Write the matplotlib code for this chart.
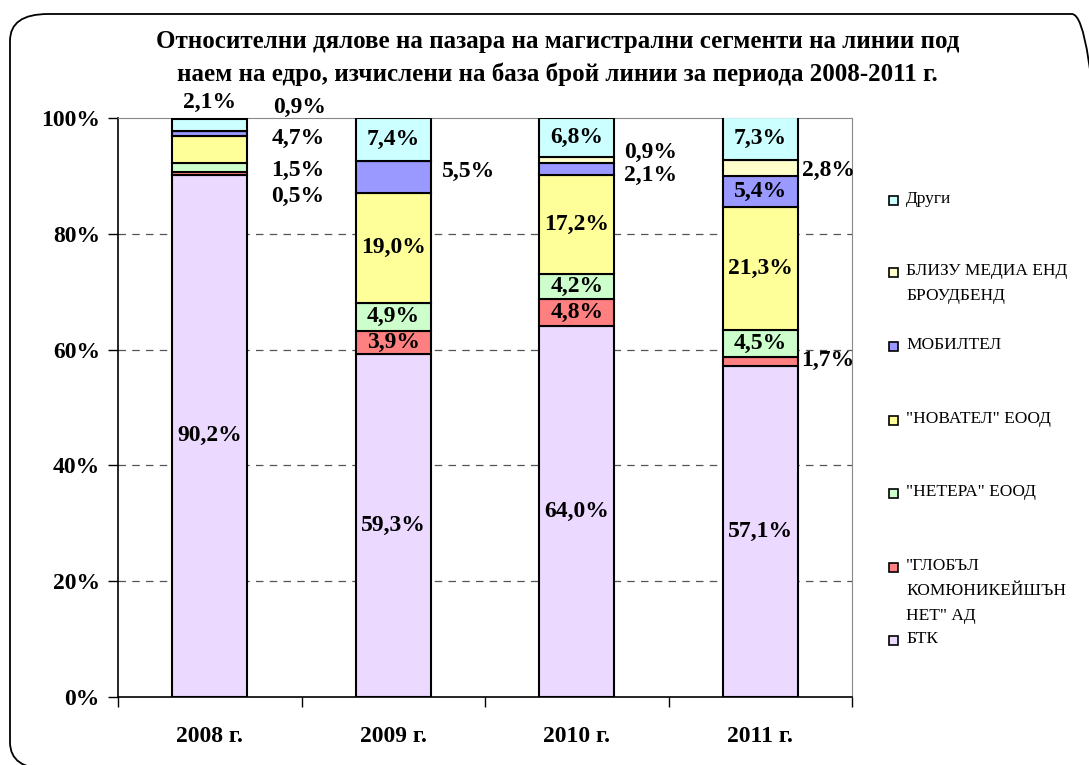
import matplotlib
matplotlib.use("Agg")
import matplotlib.pyplot as plt
from matplotlib.patches import FancyBboxPatch, Rectangle
import numpy as np

plt.rcParams['font.family'] = ['Liberation Serif', 'DejaVu Serif']

years = ['2008 г.', '2009 г.', '2010 г.', '2011 г.']
series = ['БТК', '"ГЛОБЪЛ\nКОМЮНИКЕЙШЪН\nНЕТ" АД', '"НЕТЕРА" ЕООД', '"НОВАТЕЛ" ЕООД',
          'МОБИЛТЕЛ', 'БЛИЗУ МЕДИА ЕНД\nБРОУДБЕНД', 'Други']
btk = [90.2, 59.3, 64.0, 57.1]
globul = [0.5, 3.9, 4.8, 1.7]
netera = [1.5, 4.9, 4.2, 4.5]
novatel = [4.7, 19.0, 17.2, 21.3]
mobiltel = [0.9, 5.5, 2.1, 5.4]
blizu = [0.0, 0.0, 0.9, 2.8]
drugi = [2.1, 7.4, 6.8, 7.3]
values = [btk, globul, netera, novatel, mobiltel, blizu, drugi]
colors = ['#EBD9FF', '#FF8080', '#CCFFCC', '#FFFF99', '#9999FF', '#FFFFCC', '#CCFFFF']

# labels placed outside the bar: (series index, year index) -> (x, y) in data units
outside = {
    (6, 0): (0.0, 102.6), (4, 0): (0.49, 101.9), (3, 0): (0.48, 96.5),
    (2, 0): (0.48, 91.0), (1, 0): (0.48, 86.4),
    (4, 1): (1.41, 90.7),
    (5, 2): (2.40, 94.1), (4, 2): (2.40, 90.0),
    (5, 3): (3.37, 91.0), (1, 3): (3.37, 58.2),
}

fig = plt.figure(figsize=(10.89, 7.65), dpi=100)
fig.patches.append(FancyBboxPatch((10 / 1089, -4 / 765), 1100 / 1089, 755 / 765,
                                  boxstyle="round,pad=0,rounding_size=0.035",
                                  transform=fig.transFigure, fill=False,
                                  edgecolor='black', linewidth=1.3, zorder=0))

ax = fig.add_axes([118 / 1089, 1 - 697 / 765, (852 - 118) / 1089, (697 - 118) / 765])
x = np.arange(len(years))
bottom = np.zeros(len(years))
for i, vals in enumerate(values):
    ax.bar(x, vals, width=0.41, bottom=bottom, color=colors[i], edgecolor='black',
           linewidth=1.5, zorder=3)
    for j, v in enumerate(vals):
        if v <= 0:
            continue
        txt = f"{v:.1f}".replace('.', ',') + '%'
        if (i, j) in outside:
            lx, ly = outside[(i, j)]
        else:
            lx, ly = x[j], bottom[j] + v / 2
        ax.text(lx, ly, txt, ha='center', va='center', fontsize=17,
                fontweight='bold', zorder=4, clip_on=False)
    bottom += np.array(vals)

ax.set_xlim(-0.5, 3.5)
ax.set_ylim(0, 100)
ax.set_yticks([0, 20, 40, 60, 80, 100])
ax.set_yticklabels(['0%', '20%', '40%', '60%', '80%', '100%'], fontsize=17, fontweight='bold')
ax.set_xticks(x)
ax.set_xticklabels(years, fontsize=17, fontweight='bold')
ax.set_xticks(np.arange(-0.5, 4, 1), minor=True)
ax.tick_params(axis='x', which='major', length=0, pad=21)
ax.tick_params(axis='x', which='minor', length=7, width=1, direction='out')
ax.tick_params(axis='y', length=7, width=1, direction='out', pad=6)
for yv in [20, 40, 60, 80]:
    ax.axhline(yv, color='#555555', linestyle=(0, (6, 5)), linewidth=0.9, zorder=1)
ax.spines['top'].set_color('#888888')
ax.spines['right'].set_color('#888888')
ax.spines['left'].set_linewidth(1.2)
ax.spines['bottom'].set_linewidth(1.2)

fig.text(0.512, 1 - 58 / 765, 'Относителни дялове на пазара на магистрални сегменти на линии под\n'
         'наем на едро, изчислени на база брой линии за периода 2008-2011 г.',
         ha='center', va='center', fontsize=18, fontweight='bold', linespacing=1.55)

# legend, top entry first
leg_y = [200, 272, 346, 420, 493, 567, 640]
for k, yy in enumerate(leg_y):
    i = len(series) - 1 - k
    fig.patches.append(Rectangle((889 / 1089, 1 - (yy + 5) / 765), 9 / 1089, 9 / 765,
                                 transform=fig.transFigure, facecolor=colors[i],
                                 edgecolor='black', linewidth=1.2))
    fig.text(906 / 1089, 1 - (yy - 9) / 765, series[i], ha='left', va='top',
             fontsize=12.5, linespacing=1.75)

fig.savefig('out.png', dpi=100)
